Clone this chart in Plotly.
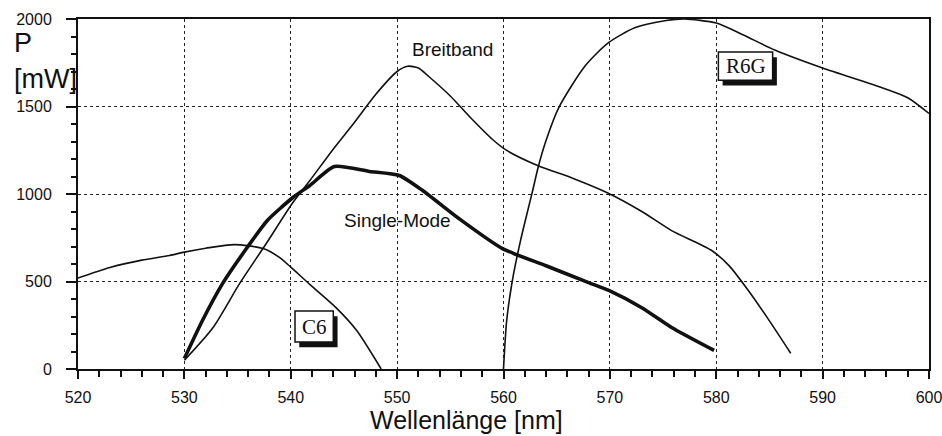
import plotly.graph_objects as go

# Data
breit_x = [530, 532.7, 535.2, 537.7, 540.2, 541.8, 543.9, 546, 548, 550, 551, 552, 553, 555, 557, 559, 560.3, 563.2, 566.5, 569.9, 573, 575.8, 579.5, 581.2, 583, 585, 587]
breit_y = [50, 237, 489, 717, 951, 1077, 1249, 1410, 1570, 1700, 1730, 1720, 1670, 1560, 1430, 1310, 1249, 1163, 1090, 1003, 900, 791, 680, 591, 450, 275, 90]

single_x = [530, 531.7, 533.6, 535.9, 537.8, 540.2, 541.8, 544.1, 547.4, 550.2, 552.4, 555.8, 559.9, 564, 568, 569.9, 573, 575.8, 579.8]
single_y = [60, 277, 489, 694, 849, 980, 1049, 1157, 1129, 1106, 1020, 860, 688, 590, 494, 449, 350, 237, 106]

c6_x = [520, 523, 526, 528.6, 530, 532, 534.7, 537.4, 539, 540, 541, 542, 544.3, 546.2, 548.5]
c6_y = [520, 580, 622, 649, 668, 690, 711, 688, 635, 582, 527, 472, 348, 220, 0]

r6g_x = [560, 560.3, 560.8, 561.6, 562.7, 563.3, 564, 565.2, 567.7, 569.9, 572.4, 575.3, 577, 580, 582.5, 585.5, 590, 595.4, 598, 600]
r6g_y = [0, 277, 494, 734, 1009, 1163, 1306, 1494, 1734, 1866, 1951, 1991, 2000, 1977, 1910, 1823, 1720, 1611, 1550, 1460]

x_ticks = [520, 530, 540, 550, 560, 570, 580, 590, 600]
y_ticks = [0, 500, 1000, 1500, 2000]

fig = go.Figure()
thin = dict(color="#111111", width=1.6, shape="spline", smoothing=0.7)
fig.add_trace(go.Scatter(x=c6_x, y=c6_y, mode="lines", line=thin, name="C6"))
fig.add_trace(go.Scatter(x=breit_x, y=breit_y, mode="lines", line=thin, name="Breitband"))
fig.add_trace(go.Scatter(x=r6g_x, y=r6g_y, mode="lines", line=thin, name="R6G"))
fig.add_trace(go.Scatter(x=single_x, y=single_y, mode="lines",
                         line=dict(color="#111111", width=3.6, shape="spline", smoothing=0.6),
                         name="Single-Mode"))

sans = "Liberation Sans, Arial, sans-serif"
axis_font = dict(family=sans, size=16, color="#111111")

fig.update_xaxes(
    range=[520, 600], tickvals=x_ticks, ticktext=[str(v) for v in x_ticks],
    showgrid=True, gridcolor="#222222", griddash="dot", gridwidth=1.2,
    showline=True, linecolor="#111111", linewidth=2, mirror=True,
    ticks="outside", ticklen=8, tickwidth=2, tickcolor="#111111",
    minor=dict(dtick=2, ticks="outside", ticklen=6, tickwidth=2, tickcolor="#111111", showgrid=False),
    tickfont=axis_font, zeroline=False, automargin=False, ticklabelstandoff=5,
    ticklabeloverflow="allow",
)
fig.update_yaxes(
    range=[0, 2000], tickvals=y_ticks, ticktext=[str(v) for v in y_ticks],
    showgrid=True, gridcolor="#222222", griddash="dot", gridwidth=1.2,
    showline=True, linecolor="#111111", linewidth=2, mirror=True,
    ticks="outside", ticklen=10, tickwidth=2, tickcolor="#111111",
    minor=dict(dtick=100, ticks="outside", ticklen=5, tickwidth=2, tickcolor="#111111", showgrid=False),
    tickfont=axis_font, zeroline=False, automargin=False, ticklabelstandoff=11,
    ticklabeloverflow="allow",
)

lab_font = dict(family=sans, size=19, color="#111111")
fig.add_annotation(x=555.2, y=1823, text="Breitband", showarrow=False, font=lab_font, xanchor="center", yanchor="middle")
fig.add_annotation(x=550.0, y=849, text="Single-Mode", showarrow=False, font=lab_font, xanchor="center", yanchor="middle")

# Axis titles
title_font = dict(family=sans, size=25, color="#111111")
fig.add_annotation(xref="paper", yref="paper", x=0.456, y=-0.146, text="Wellenlänge [nm]",
                   showarrow=False, xanchor="center", yanchor="middle", font=title_font)
yt_font = dict(family=sans, size=27, color="#111111")
fig.add_annotation(xref="paper", yref="paper", x=-0.0775, y=0.93, text="P", showarrow=False,
                   xanchor="left", yanchor="middle", font=yt_font)
fig.add_annotation(xref="paper", yref="paper", x=-0.0775, y=0.828, text="[mW]", showarrow=False,
                   xanchor="left", yanchor="middle", font=yt_font)

# Boxed labels with shadow
serif = dict(family="Liberation Serif, DejaVu Serif, serif", size=21, color="#111111")
def boxed(x0, x1, y0, y1, text):
    fig.add_shape(type="rect", x0=x0 + 0.4, x1=x1 + 0.4, y0=y0 - 30, y1=y1 - 30,
                  fillcolor="#111111", line=dict(width=0), layer="above")
    fig.add_shape(type="rect", x0=x0, x1=x1, y0=y0, y1=y1,
                  fillcolor="white", line=dict(color="#111111", width=1.5), layer="above")
    fig.add_annotation(x=(x0 + x1) / 2, y=(y0 + y1) / 2, text=text, showarrow=False, font=serif)

boxed(580.2, 585.3, 1650, 1811, "R6G")
boxed(540.4, 544.0, 154, 331, "C6")

fig.update_layout(
    width=942, height=436,
    margin=dict(l=78, r=13, t=19, b=67),
    plot_bgcolor="white", paper_bgcolor="white",
    showlegend=False,
)

fig.write_html("out.html")
